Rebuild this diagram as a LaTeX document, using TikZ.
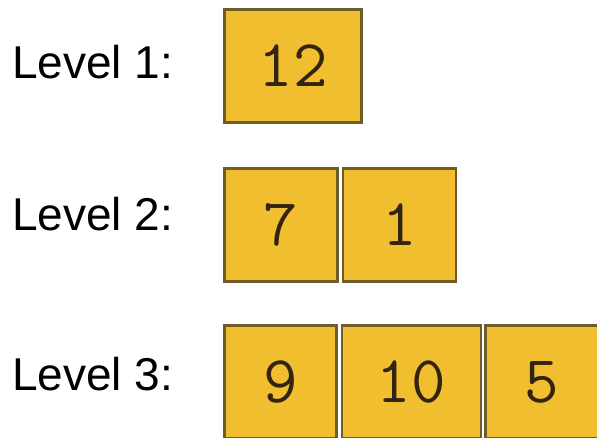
\documentclass[tikz,border=0pt]{standalone}
\usepackage{fontspec}
\setmainfont{Liberation Sans}
\usetikzlibrary{positioning}
\definecolor{cellGold}{RGB}{241, 190, 48}
\definecolor{cellEdge}{RGB}{112, 92, 40}
\definecolor{digitInk}{RGB}{50, 36, 16}

\begin{document}
\begin{tikzpicture}[
    x=1pt, y=1pt,
    cell/.style={rectangle, draw=cellEdge, fill=cellGold, line width=2.5pt,
                 minimum height=113pt, inner sep=0pt, text=digitInk,
                 font=\fontsize{67}{72}\selectfont\ttfamily},
    level/.style={anchor=base west, inner sep=0pt,
                  font=\fontsize{46}{54}\selectfont},
  ]
    \clip (0,0) rectangle (597,437);

    % Level 1
    \node[level] (L1) at (12,358) {Level 1:};
    \node[cell, minimum width=137pt] (A1) at (293,371) {12};

    % Level 2
    \node[level] (L2) at (12,207) {Level 2:};
    \node[cell, minimum width=113pt] (B1) at (281,212) {7};
    \node[cell, minimum width=113pt, right=3pt of B1] (B2) {1};

    % Level 3
    \node[level] (L3) at (12,47) {Level 3:};
    \node[cell, minimum width=112pt] (C1) at (280.5,55) {9};
    \node[cell, minimum width=139pt, right=3pt of C1] (C2) {10};
    \node[cell, minimum width=113pt, right=2pt of C2] (C3) {5};
\end{tikzpicture}
\end{document}
